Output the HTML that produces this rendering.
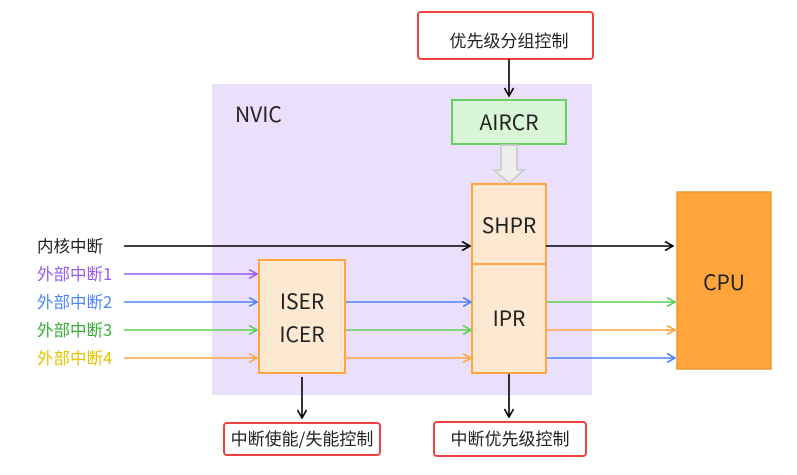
<!DOCTYPE html>
<html><head><meta charset="utf-8"><style>
body{margin:0;background:#fff;}
svg text{font-family:"Noto Sans CJK SC","Liberation Sans",sans-serif;}
</style></head><body>
<svg width="797" height="470" viewBox="0 0 797 470" xmlns="http://www.w3.org/2000/svg">
<defs>
<marker id="k" viewBox="0 0 10 10" refX="9" refY="5" markerWidth="10" markerHeight="10" markerUnits="userSpaceOnUse" orient="auto"><path d="M1,0.5 L9,5 L1,9.5" fill="none" stroke="#000" stroke-width="1.6"/></marker>
<marker id="p" viewBox="0 0 10 10" refX="9" refY="5" markerWidth="10" markerHeight="10" markerUnits="userSpaceOnUse" orient="auto"><path d="M1,0.5 L9,5 L1,9.5" fill="none" stroke="#9a5cf0" stroke-width="1.6"/></marker>
<marker id="b" viewBox="0 0 10 10" refX="9" refY="5" markerWidth="10" markerHeight="10" markerUnits="userSpaceOnUse" orient="auto"><path d="M1,0.5 L9,5 L1,9.5" fill="none" stroke="#4f86f7" stroke-width="1.6"/></marker>
<marker id="g" viewBox="0 0 10 10" refX="9" refY="5" markerWidth="10" markerHeight="10" markerUnits="userSpaceOnUse" orient="auto"><path d="M1,0.5 L9,5 L1,9.5" fill="none" stroke="#5ccf55" stroke-width="1.6"/></marker>
<marker id="o" viewBox="0 0 10 10" refX="9" refY="5" markerWidth="10" markerHeight="10" markerUnits="userSpaceOnUse" orient="auto"><path d="M1,0.5 L9,5 L1,9.5" fill="none" stroke="#ffa640" stroke-width="1.6"/></marker>
</defs>
<rect x="212" y="84" width="380" height="311" fill="#ebe0fc"/>
<text x="235" y="122" font-size="21" fill="#222">NVIC</text>
<rect x="418" y="12" width="175" height="47" rx="3" fill="#fff" stroke="#f04040" stroke-width="2"/>
<text x="509" y="47" font-size="17" fill="#222" text-anchor="middle">优先级分组控制</text>
<line x1="509" y1="59" x2="509" y2="96" stroke="#000" stroke-width="1.6" marker-end="url(#k)"/>
<rect x="452" y="100" width="114" height="44" fill="#d8f5d6" stroke="#66d160" stroke-width="2"/>
<text x="509" y="130" font-size="21" fill="#222" text-anchor="middle">AIRCR</text>
<path d="M501,145 L517,145 L517,170 L524,170 L509,183 L494,170 L501,170 Z" fill="#eeeeee" stroke="#c8c8c8" stroke-width="1.5"/>
<rect x="472" y="184" width="74" height="80" fill="#fde8d2" stroke="#ffa640" stroke-width="2"/>
<rect x="472" y="264" width="74" height="109" fill="#fde8d2" stroke="#ffa640" stroke-width="2"/>
<text x="509" y="233" font-size="21" fill="#222" text-anchor="middle">SHPR</text>
<text x="509" y="326" font-size="21" fill="#222" text-anchor="middle">IPR</text>
<rect x="259" y="260" width="86" height="113" fill="#fde8d2" stroke="#ffa640" stroke-width="2"/>
<text x="302" y="309" font-size="21" fill="#222" text-anchor="middle">ISER</text>
<text x="302" y="342" font-size="21" fill="#222" text-anchor="middle">ICER</text>
<rect x="677" y="192" width="94" height="177" fill="#ffa53c" stroke="#e59a3a" stroke-width="1.5"/>
<text x="724" y="290" font-size="21" fill="#222" text-anchor="middle">CPU</text>
<g font-size="16.5">
<text x="37" y="252" fill="#222">内核中断</text>
<text x="37" y="280" fill="#9a5cf0">外部中断1</text>
<text x="37" y="308" fill="#4f86f7">外部中断2</text>
<text x="37" y="336" fill="#3aad3a">外部中断3</text>
<text x="37" y="364" fill="#e8c500">外部中断4</text>
</g>
<g stroke-width="1.6" fill="none">
<line x1="124" y1="246" x2="470" y2="246" stroke="#000" marker-end="url(#k)"/>
<line x1="546" y1="246" x2="673" y2="246" stroke="#000" marker-end="url(#k)"/>
<line x1="124" y1="274" x2="257" y2="274" stroke="#9a5cf0" marker-end="url(#p)"/>
<line x1="124" y1="302" x2="257" y2="302" stroke="#4f86f7" marker-end="url(#b)"/>
<line x1="124" y1="330" x2="257" y2="330" stroke="#5ccf55" marker-end="url(#g)"/>
<line x1="124" y1="358" x2="257" y2="358" stroke="#ffa640" marker-end="url(#o)"/>
<line x1="346" y1="302" x2="471" y2="302" stroke="#4f86f7" marker-end="url(#b)"/>
<line x1="346" y1="330" x2="471" y2="330" stroke="#5ccf55" marker-end="url(#g)"/>
<line x1="346" y1="358" x2="471" y2="358" stroke="#ffa640" marker-end="url(#o)"/>
<line x1="547" y1="302" x2="675" y2="302" stroke="#5ccf55" marker-end="url(#g)"/>
<line x1="547" y1="330" x2="675" y2="330" stroke="#ffa640" marker-end="url(#o)"/>
<line x1="547" y1="358" x2="675" y2="358" stroke="#4f86f7" marker-end="url(#b)"/>
<line x1="302" y1="377" x2="302" y2="418" stroke="#000" marker-end="url(#k)"/>
<line x1="509" y1="374" x2="509" y2="417" stroke="#000" marker-end="url(#k)"/>
</g>
<rect x="224" y="423" width="156" height="32" rx="3" fill="#fff" stroke="#f04040" stroke-width="2"/>
<text x="302" y="445" font-size="17" fill="#222" text-anchor="middle">中断使能/失能控制</text>
<rect x="434" y="422" width="152" height="34" rx="3" fill="#fff" stroke="#f04040" stroke-width="2"/>
<text x="510" y="445" font-size="17" fill="#222" text-anchor="middle">中断优先级控制</text>
</svg>
</body></html>
